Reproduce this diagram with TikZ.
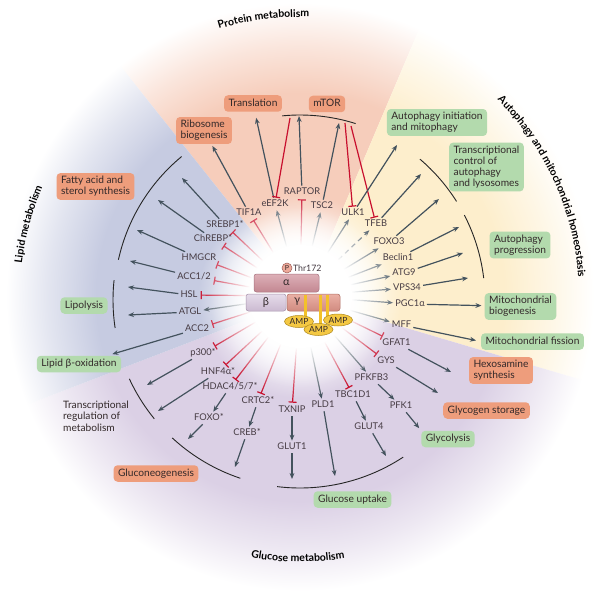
\documentclass[tikz,border=0pt]{standalone}
\usepackage{fontspec}
\setmainfont{Lato}
\usetikzlibrary{arrows.meta,calc,fadings,decorations.text,shapes.geometric}
\definecolor{peachc}{HTML}{F6CDBB}
\definecolor{yellowc}{HTML}{FDEECC}
\definecolor{bluec}{HTML}{C6CBE1}
\definecolor{purplec}{HTML}{DBD0E5}
\colorlet{peachf}{peachc!50!white}
\colorlet{yellowf}{yellowc!50!white}
\colorlet{bluef}{bluec!50!white}
\colorlet{purplef}{purplec!50!white}
\definecolor{salmonbox}{HTML}{EE9D7C}
\definecolor{greenbox}{HTML}{B3DAAD}
\definecolor{arrowc}{HTML}{43525D}
\definecolor{inhc}{HTML}{C8102E}
\definecolor{labc}{HTML}{463B43}
\definecolor{boxtext}{HTML}{33292A}
\definecolor{alphatop}{HTML}{DDB0B7}
\definecolor{alphabot}{HTML}{C38792}
\definecolor{alphaline}{HTML}{A87480}
\definecolor{betatop}{HTML}{E6DCEA}
\definecolor{betabot}{HTML}{CBBAD1}
\definecolor{betaline}{HTML}{A895AE}
\definecolor{gammatop}{HTML}{EAB0A5}
\definecolor{gammabot}{HTML}{D18B80}
\definecolor{gammaline}{HTML}{B07066}
\definecolor{goldc}{HTML}{F3C12B}
\definecolor{ampfill}{HTML}{F4C843}
\definecolor{ampline}{HTML}{B08A1E}
\definecolor{pfill}{HTML}{EDA99A}
\definecolor{pline}{HTML}{A0605A}
\pgfdeclareradialshading{peachring}{\pgfpointorigin}{color(0bp)=(white); color(3.5bp)=(white); color(7.5bp)=(peachc); color(17bp)=(peachc); color(21bp)=(peachf); color(24.5bp)=(white); color(50bp)=(white)}
\pgfdeclareradialshading{yellowring}{\pgfpointorigin}{color(0bp)=(white); color(3.5bp)=(white); color(7.5bp)=(yellowc); color(17bp)=(yellowc); color(21bp)=(yellowf); color(24.5bp)=(white); color(50bp)=(white)}
\pgfdeclareradialshading{bluering}{\pgfpointorigin}{color(0bp)=(white); color(3.5bp)=(white); color(7.5bp)=(bluec); color(17bp)=(bluec); color(21bp)=(bluef); color(24.5bp)=(white); color(50bp)=(white)}
\pgfdeclareradialshading{purplering}{\pgfpointorigin}{color(0bp)=(white); color(3.5bp)=(white); color(7.5bp)=(purplec); color(17bp)=(purplec); color(21bp)=(purplef); color(24.5bp)=(white); color(50bp)=(white)}
\pgfdeclareradialshading{glowshade}{\pgfpointorigin}{color(0bp)=(white); color(12.5bp)=(white); color(25bp)=(black); color(50bp)=(black)}
\pgfdeclarefading{glowfade}{\pgfuseshading{glowshade}}
\pgfdeclarelayer{bglayer}
\pgfdeclarelayer{glowlayer}
\pgfsetlayers{bglayer,glowlayer,main}
\newcommand\ttlfmt{\fontsize{10.5}{12}\selectfont\bfseries}
\tikzset{
  lab/.style={text=labc, font=\fontsize{9.3}{10}\selectfont, inner sep=2pt, text height=6.8pt, text depth=1.4pt},
  boxbase/.style={rounded corners=4pt, text=boxtext, font=\fontsize{10.2}{11}\selectfont, inner xsep=4.5pt, inner ysep=3.3pt, align=left},
  sbox/.style={boxbase, fill=salmonbox},
  gbox/.style={boxbase, fill=greenbox},
  one/.style={text height=7.6pt, text depth=2.3pt},
  arr/.style={draw=arrowc, line width=1.2pt, -{Stealth[length=6pt,width=4.8pt]}},
  inh/.style={draw=inhc, line width=1.2pt, -{Bar[width=8pt]}},
  grp/.style={draw=black!85, line width=0.9pt},
  ampn/.style={ellipse, draw=ampline, line width=0.5pt, fill=ampfill, minimum width=29pt, minimum height=12pt, inner sep=0pt, font=\fontsize{8.5}{9}\selectfont, text=boxtext},
  sub/.style={rounded corners=2.5pt, line width=0.5pt, inner sep=0pt, text=boxtext, font=\fontsize{11}{11}\selectfont}
}
\begin{document}
\begin{tikzpicture}[x=1pt,y=-1pt]
\useasboundingbox (0,0) rectangle (600,591);
\coordinate (c0) at (300,297);
\coordinate (H) at (305,298);
\coordinate (A) at (300,300);
\coordinate (c) at (300,296);
\begin{pgfonlayer}{bglayer}
\fill[white] (0,0) rectangle (600,591);
% sectors
\begin{scope}
\clip (H) -- ($(H)+(-128.5:700)$) -- ($(H)+(-97.75:700)$) -- ($(H)+(-67:700)$) -- cycle;
\shade[shading=peachring] (c0) circle (300);
\end{scope}
\begin{scope}
\clip (H) -- ($(H)+(-67:700)$) -- ($(H)+(-25.25:700)$) -- ($(H)+(16.5:700)$) -- cycle;
\shade[shading=yellowring] (c0) circle (300);
\end{scope}
\begin{scope}
\clip (H) -- ($(H)+(16.5:700)$) -- ($(H)+(64:700)$) -- ($(H)+(111.5:700)$) -- ($(H)+(159:700)$) -- cycle;
\shade[shading=purplering] (c0) circle (300);
\end{scope}
\begin{scope}
\clip (H) -- ($(H)+(159:700)$) -- ($(H)+(195.25:700)$) -- ($(H)+(231.5:700)$) -- cycle;
\shade[shading=bluering] (c0) circle (300);
\end{scope}
% grouping arcs
\draw[grp] ($(A)+(-95.5:185)$) arc (-95.5:-72.5:185);
\draw[grp] ($(A)+(-167.5:186)$) arc (-167.5:-129.5:186);
\draw[grp] ($(A)+(171.4:187)$) arc (171.4:186.1:187);
\draw[grp] ($(A)+(140.8:188)$) arc (140.8:155.2:188);
\draw[grp] ($(A)+(108.5:188)$) arc (108.5:132.8:188);
\draw[grp] ($(A)+(56.7:188)$) arc (56.7:97:188);
\draw[grp] ($(A)+(-49.6:185)$) arc (-49.6:-32.2:185);
\draw[grp] ($(A)+(-27.3:185)$) arc (-27.3:-6.8:185);
\end{pgfonlayer}
% gene labels
\node[lab] (TIF1A) at (249,213) {TIF1A};
\node[lab] (eEF2K) at (275,204) {eEF2K};
\node[lab] (RAPTOR) at (302,192) {RAPTOR};
\node[lab] (TSC2) at (322,206) {TSC2};
\node[lab] (ULK1) at (353,213) {ULK1};
\node[lab] (TFEB) at (376,224) {TFEB};
\node[lab] (FOXO3) at (389,242) {FOXO3};
\node[lab] (Beclin) at (398,258) {Beclin1};
\node[lab] (ATG9) at (404,273) {ATG9};
\node[lab] (VPS34) at (407,288) {VPS34};
\node[lab] (PGC) at (410,304) {PGC1α};
\node[lab] (MFF) at (401.5,325) {MFF};
\node[lab] (GFAT) at (396.5,343) {GFAT1};
\node[lab] (GYS) at (386,361) {GYS};
\node[lab] (PFKFB3) at (371.5,378) {PFKFB3};
\node[lab] (PFK1) at (401,406) {PFK1};
\node[lab] (TBC) at (353,395) {TBC1D1};
\node[lab] (GLUT4) at (369,427) {GLUT4};
\node[lab] (PLD1) at (323,405) {PLD1};
\node[lab] (TXNIP) at (292,410) {TXNIP};
\node[lab] (GLUT1) at (292,447) {GLUT1};
\node[lab] (CRTC) at (258,401) {CRTC2*};
\node[lab] (CREB) at (247,433) {CREB*};
\node[lab] (HDAC) at (230,387) {HDAC4/5/7*};
\node[lab] (FOXO) at (209,418) {FOXO*};
\node[lab] (HNF) at (218,372) {HNF4α*};
\node[lab] (p300) at (203,353) {p300*};
\node[lab] (ACCb) at (197,329) {ACC2};
\node[lab] (ATGL) at (190,312) {ATGL};
\node[lab] (HSL) at (189,295) {HSL};
\node[lab] (ACCa) at (194,277) {ACC1/2};
\node[lab] (HMGCR) at (199,258) {HMGCR};
\node[lab] (ChREBP) at (213,239) {ChREBP*};
\node[lab] (SREBP) at (225,225) {SREBP1*};
% outcome boxes
\node[sbox,one] (transl) at (253,103.5) {Translation};
\node[sbox,one] (mtor) at (327,104) {mTOR};
\node[sbox] (ribo) at (204,130.5) {Ribosome\\biogenesis};
\node[sbox] (fatty) at (95.5,186.5) {Fatty acid and\\sterol synthesis};
\node[gbox,one] (lipol) at (84,305.5) {Lipolysis};
\node[gbox,one] (lipox) at (79,364) {Lipid β-oxidation};
\node[sbox,one] (glucneo) at (156,473.5) {Gluconeogenesis};
\node[gbox,one] (gluup) at (352.5,499.5) {Glucose uptake};
\node[gbox,one] (glycol) at (448,439) {Glycolysis};
\node[sbox,one] (glycst) at (486.5,410.5) {Glycogen storage};
\node[sbox] (hexo) at (501,370.5) {Hexosamine\\synthesis};
\node[gbox,one] (mitofis) at (532.5,341.5) {Mitochondrial fission};
\node[gbox] (mitobio) at (520.5,306.5) {Mitochondrial\\biogenesis};
\node[gbox] (autoprog) at (520,245) {Autophagy\\progression};
\node[gbox] (tcal) at (486.5,167) {Transcriptional\\control of\\autophagy\\and lysosomes};
\node[gbox] (autoinit) at (437,122.5) {Autophagy initiation\\and mitophagy};
\node[anchor=west, align=left, text=boxtext, font=\fontsize{10.2}{11.5}\selectfont, inner sep=0pt] (trm) at (63,416) {Transcriptional\\regulation of\\metabolism};
% arrow end points on the grouping arcs
\coordinate (m1) at (299,116);
\coordinate (m2) at (339,123);
\coordinate (m3) at (290,118);
\coordinate (m4) at (345,123);
\coordinate (m5) at (351,126);
\coordinate (tai) at (397,145);
\coordinate (ttfeb) at (421,174);
\coordinate (tfoxo3) at (439,199);
\coordinate (tbecl) at (459,227);
\coordinate (tatg9) at (463,253);
\coordinate (tvps) at (468,278);
\coordinate (tsrebp) at (182,178);
\coordinate (tchrebp) at (158,200);
\coordinate (thmgcr) at (137,230);
\coordinate (tacc) at (130,261);
\coordinate (thsl) at (128,287);
\coordinate (tatgl) at (128,315);
\coordinate (tp300) at (147,385);
\coordinate (thnf) at (158,411);
\coordinate (tfoxo) at (188,439);
\coordinate (tcreb) at (235,467);
\coordinate (tglut1) at (292,479);
\coordinate (tpld1) at (335,476);
\coordinate (tglut4) at (386,456);
\coordinate (thexo) at (451,372);
\coordinate (tglyc) at (438,393);
\begin{pgfonlayer}{bglayer}
% protein / autophagy connectors
\draw[arr, shorten >=2pt] (TIF1A) -- (ribo);
\draw[arr, shorten >=6pt] (eEF2K) -- (transl);
\draw[arr] (RAPTOR) -- (m1);
\draw[arr] (TSC2) -- (m2);
\draw[inh] (m3) -- (eEF2K);
\draw[inh] (m4) -- (ULK1);
\draw[inh] (m5) -- (TFEB);
\draw[arr] (ULK1) -- (tai);
\draw[arr] (TFEB) -- (ttfeb);
\draw[arr] (FOXO3) -- (tfoxo3);
\draw[arr] (Beclin) -- (tbecl);
\draw[arr] (ATG9) -- (tatg9);
\draw[arr] (VPS34) -- (tvps);
\draw[arr, shorten >=3pt] (PGC) -- (mitobio);
\draw[arr, shorten >=5pt] (MFF) -- (mitofis.west);
% lipid
\draw[arr] (SREBP) -- (tsrebp);
\draw[arr] (ChREBP) -- (tchrebp);
\draw[arr] (HMGCR) -- (thmgcr);
\draw[arr] (ACCa) -- (tacc);
\draw[arr] (HSL) -- (thsl);
\draw[arr] (ATGL) -- (tatgl);
\draw[arr, shorten >=5pt] (ACCb) -- (lipox);
% transcription / glucose
\draw[arr] (p300) -- (tp300);
\draw[arr] (HNF) -- (thnf);
\draw[arr] (HDAC) -- (FOXO);
\draw[arr] (FOXO) -- (tfoxo);
\draw[arr] (CRTC) -- (CREB);
\draw[arr] (CREB) -- (tcreb);
\draw[arr] (TXNIP) -- (GLUT1);
\draw[arr] (GLUT1) -- (tglut1);
\draw[arr] (PLD1) -- (tpld1);
\draw[arr] (TBC) -- (GLUT4);
\draw[arr] (GLUT4) -- (tglut4);
\draw[arr] (PFKFB3) -- (PFK1);
\draw[arr, shorten >=3pt] (PFK1) -- (glycol.north west);
\draw[arr] (GYS) -- (tglyc);
\draw[arr] (GFAT) -- (thexo);
% radial connectors from AMPK
\foreach \n in {TIF1A,RAPTOR,SREBP,ChREBP,HMGCR,ACCa,HSL,ACCb,p300,HNF,HDAC,CRTC,TXNIP,TBC,GYS,GFAT}
  {\draw[inh, shorten <=35pt, shorten >=1pt] (c) -- (\n);}
\foreach \n in {eEF2K,TSC2,ULK1,FOXO3,Beclin,ATG9,VPS34,PGC,MFF,PFKFB3,PLD1,ATGL}
  {\draw[arr, shorten <=35pt] (c) -- (\n);}
\draw[arr, dash pattern=on 5pt off 4pt, shorten <=35pt] (c) -- (TFEB);
\end{pgfonlayer}
% central glow
\begin{pgfonlayer}{glowlayer}
\fill[white, path fading=glowfade, fit fading=true] (c) circle (102);
\end{pgfonlayer}
% AMPK complex
\node[sub, draw=alphaline, top color=alphatop, bottom color=alphabot, minimum width=65pt, minimum height=18pt] (alpha) at (286.5,283) {α};
\node[sub, draw=betaline, top color=betatop, bottom color=betabot, minimum width=40pt, minimum height=17pt] (beta) at (266,302.5) {β};
\node[sub, draw=gammaline, top color=gammatop, bottom color=gammabot, minimum width=53pt, minimum height=17pt] (gamma) at (313.5,302.5) {};
\node[text=boxtext, font=\fontsize{11}{11}\selectfont, inner sep=0pt] (gtxt) at (297,302) {γ};
\fill[goldc] (304,294.5) rectangle (307.2,318);
\fill[goldc] (319.2,294.5) rectangle (322.4,325);
\fill[goldc] (325.8,294.5) rectangle (329,316);
\node[ampn] (amp1) at (299,321.5) {AMP};
\node[ampn] (amp3) at (338,320) {AMP};
\node[ampn] (amp2) at (318.5,329.5) {AMP};
\node[circle, draw=pline, line width=0.5pt, fill=pfill, inner sep=0pt, minimum size=10pt, font=\fontsize{7}{7}\selectfont, text=boxtext] (P) at (287,268) {P};
\node[anchor=west, text=labc, font=\fontsize{8.8}{9}\selectfont, inner sep=0pt] (thr) at (292.8,268) {Thr172};
% section titles
\path[decorate, decoration={text along path, text={|\ttlfmt|Protein metabolism}, text align=center}] ($(c0)+(-140:280)$) arc (-140:-55:280);
\path[decorate, decoration={text along path, text={|\ttlfmt|Autophagy and mitochondrial homeostasis}, text align=center}] ($(c0)+(-75:279)$) arc (-75:26:279);
\path[decorate, decoration={text along path, text={|\ttlfmt|Lipid metabolism}, text align=center}] ($(c0)+(160:280)$) arc (160:230:280);
\path[decorate, decoration={text along path, text={|\ttlfmt|Glucose metabolism}, text align=center}] ($(c0)+(130.5:265)$) arc (130.5:50.5:265);
\end{tikzpicture}
\end{document}
